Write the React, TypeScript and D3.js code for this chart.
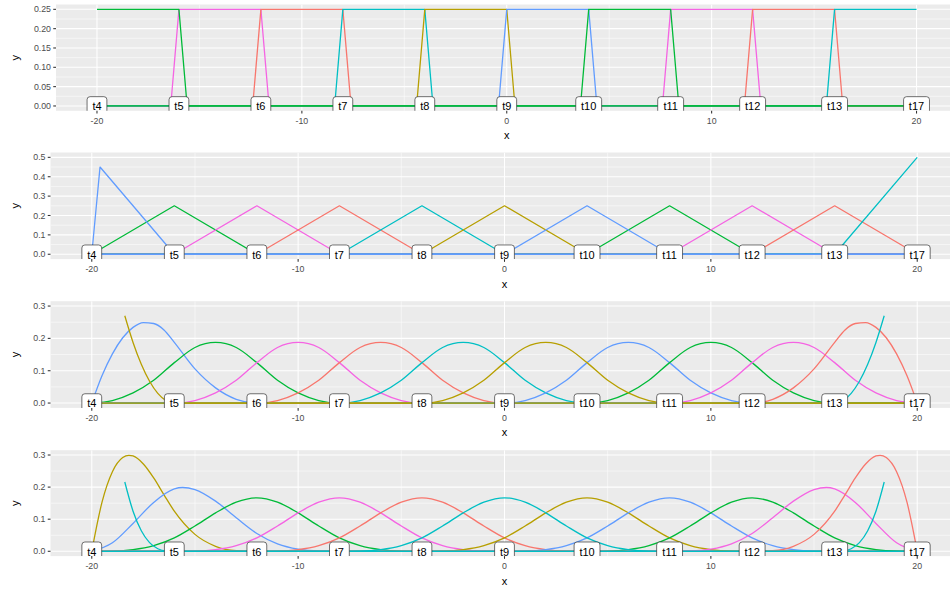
import React from 'react';
import * as d3 from 'd3';

// knot positions shared by all four panels
const knotX = [-20, -16, -12, -8, -4, 0, 4, 8, 12, 16, 20];
const knotLabels = ['t4', 't5', 't6', 't7', 't8', 't9', 't10', 't11', 't12', 't13', 't17'];
const xBreaks = [-20, -10, 0, 10, 20];
const xMinorBreaks = [-15, -5, 5, 15];

// degree 0
const deg0Groups = ['green', 'pink', 'salmon', 'cyan', 'olive', 'blue', 'green', 'pink', 'salmon', 'cyan'];
const deg0Basis = [
	[[-20, 0.25], [-16, 0.25], [-15.6, 0], [20, 0]],
	[[-20, 0], [-16.4, 0], [-16, 0.25], [-12, 0.25], [-11.6, 0], [20, 0]],
	[[-20, 0], [-12.4, 0], [-12, 0.25], [-8, 0.25], [-7.6, 0], [20, 0]],
	[[-20, 0], [-8.4, 0], [-8, 0.25], [-4, 0.25], [-3.6, 0], [20, 0]],
	[[-20, 0], [-4.4, 0], [-4, 0.25], [0, 0.25], [0.4, 0], [20, 0]],
	[[-20, 0], [-0.4, 0], [0, 0.25], [4, 0.25], [4.4, 0], [20, 0]],
	[[-20, 0], [3.6, 0], [4, 0.25], [8, 0.25], [8.4, 0], [20, 0]],
	[[-20, 0], [7.6, 0], [8, 0.25], [12, 0.25], [12.4, 0], [20, 0]],
	[[-20, 0], [11.6, 0], [12, 0.25], [16, 0.25], [16.4, 0], [20, 0]],
	[[-20, 0], [15.6, 0], [16, 0.25], [20, 0.25]],
];
const deg0YBreaks = [0, 0.05, 0.1, 0.15, 0.2, 0.25];

// degree 1
const deg1Groups = ['blue', 'green', 'pink', 'salmon', 'cyan', 'olive', 'blue', 'green', 'pink', 'salmon', 'cyan'];
const deg1Basis = [
	[[-20, 0], [-19.6, 0.45], [-16, 0], [20, 0]],
	[[-20, 0], [-16, 0.25], [-12, 0], [20, 0]],
	[[-20, 0], [-16, 0], [-12, 0.25], [-8, 0], [20, 0]],
	[[-20, 0], [-12, 0], [-8, 0.25], [-4, 0], [20, 0]],
	[[-20, 0], [-8, 0], [-4, 0.25], [0, 0], [20, 0]],
	[[-20, 0], [-4, 0], [0, 0.25], [4, 0], [20, 0]],
	[[-20, 0], [0, 0], [4, 0.25], [8, 0], [20, 0]],
	[[-20, 0], [4, 0], [8, 0.25], [12, 0], [20, 0]],
	[[-20, 0], [8, 0], [12, 0.25], [16, 0], [20, 0]],
	[[-20, 0], [12, 0], [16, 0.25], [20, 0]],
	[[-20, 0], [16, 0], [20, 0.5]],
];
const deg1YBreaks = [0, 0.1, 0.2, 0.3, 0.4, 0.5];

// degree 2
const deg2Groups = ['olive', 'blue', 'green', 'pink', 'salmon', 'cyan', 'olive', 'blue', 'green', 'pink', 'salmon', 'cyan'];
const deg2Basis = [
	[[-18.4, 0.27], [-18, 0.1875], [-17.6, 0.12], [-17.2, 0.0675], [-16.8, 0.03], [-16.4, 0.0075], [-16, 0], [20, 0]],
	[[-20, 0], [-19.5, 0.085], [-19, 0.152], [-18.5, 0.202], [-18, 0.234], [-17.5, 0.249], [-17, 0.246], [-16.5, 0.226], [-16, 0.1875], [-15, 0.1055], [-14, 0.0469], [-13, 0.0117], [-12, 0], [20, 0]],
	[[-20, 0], [-19, 0.0078], [-18, 0.0313], [-17, 0.0703], [-16, 0.125], [-15, 0.1719], [-14, 0.1875], [-13, 0.1719], [-12, 0.125], [-11, 0.0703], [-10, 0.0313], [-9, 0.0078], [-8, 0], [20, 0]],
	[[-20, 0], [-16, 0], [-15, 0.0078], [-14, 0.0313], [-13, 0.0703], [-12, 0.125], [-11, 0.1719], [-10, 0.1875], [-9, 0.1719], [-8, 0.125], [-7, 0.0703], [-6, 0.0313], [-5, 0.0078], [-4, 0], [20, 0]],
	[[-20, 0], [-12, 0], [-11, 0.0078], [-10, 0.0313], [-9, 0.0703], [-8, 0.125], [-7, 0.1719], [-6, 0.1875], [-5, 0.1719], [-4, 0.125], [-3, 0.0703], [-2, 0.0313], [-1, 0.0078], [0, 0], [20, 0]],
	[[-20, 0], [-8, 0], [-7, 0.0078], [-6, 0.0313], [-5, 0.0703], [-4, 0.125], [-3, 0.1719], [-2, 0.1875], [-1, 0.1719], [0, 0.125], [1, 0.0703], [2, 0.0313], [3, 0.0078], [4, 0], [20, 0]],
	[[-20, 0], [-4, 0], [-3, 0.0078], [-2, 0.0313], [-1, 0.0703], [0, 0.125], [1, 0.1719], [2, 0.1875], [3, 0.1719], [4, 0.125], [5, 0.0703], [6, 0.0313], [7, 0.0078], [8, 0], [20, 0]],
	[[-20, 0], [0, 0], [1, 0.0078], [2, 0.0313], [3, 0.0703], [4, 0.125], [5, 0.1719], [6, 0.1875], [7, 0.1719], [8, 0.125], [9, 0.0703], [10, 0.0313], [11, 0.0078], [12, 0], [20, 0]],
	[[-20, 0], [4, 0], [5, 0.0078], [6, 0.0313], [7, 0.0703], [8, 0.125], [9, 0.1719], [10, 0.1875], [11, 0.1719], [12, 0.125], [13, 0.0703], [14, 0.0313], [15, 0.0078], [16, 0], [20, 0]],
	[[-20, 0], [8, 0], [9, 0.0078], [10, 0.0313], [11, 0.0703], [12, 0.125], [13, 0.1719], [14, 0.1875], [15, 0.1719], [16, 0.125], [17, 0.0703], [18, 0.0313], [19, 0.0078], [20, 0]],
	[[-20, 0], [12, 0], [13, 0.0117], [14, 0.0469], [15, 0.1055], [16, 0.1875], [16.5, 0.226], [17, 0.246], [17.5, 0.249], [18, 0.234], [18.5, 0.202], [19, 0.152], [19.5, 0.085], [20, 0]],
	[[-20, 0], [16, 0], [16.4, 0.0075], [16.8, 0.03], [17.2, 0.0675], [17.6, 0.12], [18, 0.1875], [18.4, 0.27]],
];
const deg2YBreaks = [0, 0.1, 0.2, 0.3];

// degree 3
const deg3Groups = ['cyan', 'olive', 'blue', 'green', 'pink', 'salmon', 'cyan', 'olive', 'blue', 'green', 'pink', 'salmon', 'cyan'];
const deg3Basis = [
	[[-18.4, 0.216], [-18, 0.125], [-17.6, 0.064], [-17.2, 0.027], [-16.8, 0.008], [-16.4, 0.001], [-16, 0], [20, 0]],
	[[-20, 0], [-19.5, 0.154], [-19, 0.248], [-18.5, 0.292], [-18.2, 0.299], [-18, 0.297], [-17.5, 0.272], [-17, 0.2285], [-16.5, 0.176], [-16, 0.125], [-15, 0.0527], [-14, 0.0156], [-13, 0.002], [-12, 0], [20, 0]],
	[[-20, 0], [-19, 0.0265], [-18, 0.0868], [-17, 0.1523], [-16, 0.1944], [-15.6, 0.1988], [-15, 0.1923], [-14, 0.1563], [-13, 0.1046], [-12, 0.0556], [-11, 0.0234], [-10, 0.0069], [-9, 0.0009], [-8, 0], [20, 0]],
	[[-20, 0], [-19, 0.0007], [-18, 0.0052], [-17, 0.0176], [-16, 0.0417], [-15, 0.0788], [-14, 0.1198], [-13, 0.153], [-12, 0.1667], [-11, 0.153], [-10, 0.1198], [-9, 0.0788], [-8, 0.0417], [-7, 0.0176], [-6, 0.0052], [-5, 0.0007], [-4, 0], [20, 0]],
	[[-20, 0], [-16, 0], [-15, 0.0007], [-14, 0.0052], [-13, 0.0176], [-12, 0.0417], [-11, 0.0788], [-10, 0.1198], [-9, 0.153], [-8, 0.1667], [-7, 0.153], [-6, 0.1198], [-5, 0.0788], [-4, 0.0417], [-3, 0.0176], [-2, 0.0052], [-1, 0.0007], [0, 0], [20, 0]],
	[[-20, 0], [-12, 0], [-11, 0.0007], [-10, 0.0052], [-9, 0.0176], [-8, 0.0417], [-7, 0.0788], [-6, 0.1198], [-5, 0.153], [-4, 0.1667], [-3, 0.153], [-2, 0.1198], [-1, 0.0788], [0, 0.0417], [1, 0.0176], [2, 0.0052], [3, 0.0007], [4, 0], [20, 0]],
	[[-20, 0], [-8, 0], [-7, 0.0007], [-6, 0.0052], [-5, 0.0176], [-4, 0.0417], [-3, 0.0788], [-2, 0.1198], [-1, 0.153], [0, 0.1667], [1, 0.153], [2, 0.1198], [3, 0.0788], [4, 0.0417], [5, 0.0176], [6, 0.0052], [7, 0.0007], [8, 0], [20, 0]],
	[[-20, 0], [-4, 0], [-3, 0.0007], [-2, 0.0052], [-1, 0.0176], [0, 0.0417], [1, 0.0788], [2, 0.1198], [3, 0.153], [4, 0.1667], [5, 0.153], [6, 0.1198], [7, 0.0788], [8, 0.0417], [9, 0.0176], [10, 0.0052], [11, 0.0007], [12, 0], [20, 0]],
	[[-20, 0], [0, 0], [1, 0.0007], [2, 0.0052], [3, 0.0176], [4, 0.0417], [5, 0.0788], [6, 0.1198], [7, 0.153], [8, 0.1667], [9, 0.153], [10, 0.1198], [11, 0.0788], [12, 0.0417], [13, 0.0176], [14, 0.0052], [15, 0.0007], [16, 0], [20, 0]],
	[[-20, 0], [4, 0], [5, 0.0007], [6, 0.0052], [7, 0.0176], [8, 0.0417], [9, 0.0788], [10, 0.1198], [11, 0.153], [12, 0.1667], [13, 0.153], [14, 0.1198], [15, 0.0788], [16, 0.0417], [17, 0.0176], [18, 0.0052], [19, 0.0007], [20, 0]],
	[[-20, 0], [8, 0], [9, 0.0009], [10, 0.0069], [11, 0.0234], [12, 0.0556], [13, 0.1046], [14, 0.1563], [15, 0.1923], [15.6, 0.1988], [16, 0.1944], [17, 0.1523], [18, 0.0868], [19, 0.0265], [20, 0]],
	[[-20, 0], [12, 0], [13, 0.002], [14, 0.0156], [15, 0.0527], [16, 0.125], [16.5, 0.176], [17, 0.2285], [17.5, 0.272], [18, 0.297], [18.2, 0.299], [18.5, 0.292], [19, 0.248], [19.5, 0.154], [20, 0]],
	[[-20, 0], [16, 0], [16.4, 0.001], [16.8, 0.008], [17.2, 0.027], [17.6, 0.064], [18, 0.125], [18.4, 0.216]],
];
const deg3YBreaks = [0, 0.1, 0.2, 0.3];

const hueColours = {
	salmon: '#F8766D', olive: '#B79F00', green: '#00BA38',
	cyan: '#00BFC4', blue: '#619CFF', pink: '#F564E3',
};

const FONT = '"Liberation Sans", Arial, Helvetica, sans-serif';

const Panel = ({ id, basis, groups, yBreaks, fmt, box, smooth }) => {
	const x = d3.scaleLinear().domain([-22, 22]).range([box.left, box.right]);
	const y = d3.scaleLinear().domain(box.yDomain).range([box.bottom, box.top]);
	const line = d3.line<number[]>()
		.x(d => x(d[0]))
		.y(d => y(d[1]))
		.curve(smooth ? d3.curveMonotoneX : d3.curveLinear);

	// minor breaks halfway between major ones, kept inside the range
	const yMinor = [];
	for (let i = 0; i < yBreaks.length - 1; i++) yMinor.push((yBreaks[i] + yBreaks[i + 1]) / 2);

	// lines sharing the first basis colour end up on top (as in the source)
	const front = groups[0];
	const order = basis.map((_, i) => i).sort((a, b) => (groups[a] === front ? 1 : 0) - (groups[b] === front ? 1 : 0));

	const y0 = y(0);
	const midY = (box.top + box.bottom) / 2;

	return (
		<g>
			<defs>
				<clipPath id={`clip-${id}`}>
					<rect x={box.left} y={box.top} width={box.right - box.left} height={box.bottom - box.top} />
				</clipPath>
			</defs>
			<rect x={box.left} y={box.top} width={box.right - box.left} height={box.bottom - box.top} fill='#EBEBEB' />
			<g clipPath={`url(#clip-${id})`}>
				{yMinor.map(v => <line key={'ym' + v} x1={box.left} x2={box.right} y1={y(v)} y2={y(v)} stroke='white' strokeWidth={0.53} />)}
				{xMinorBreaks.map(v => <line key={'xm' + v} x1={x(v)} x2={x(v)} y1={box.top} y2={box.bottom} stroke='white' strokeWidth={0.53} />)}
				{yBreaks.map(v => <line key={'yM' + v} x1={box.left} x2={box.right} y1={y(v)} y2={y(v)} stroke='white' strokeWidth={1.07} />)}
				{xBreaks.map(v => <line key={'xM' + v} x1={x(v)} x2={x(v)} y1={box.top} y2={box.bottom} stroke='white' strokeWidth={1.07} />)}

				{order.map(i => (
					<path key={i} d={line(basis[i])} fill='none' stroke={hueColours[groups[i]]} strokeWidth={1.3} strokeLinejoin='round' />
				))}

				{knotX.map((k, i) => {
					const lab = knotLabels[i];
					const w = lab.length * 6.1 - 2.8 + 10.4;
					return (
						<g key={'k' + i}>
							<rect x={x(k) - w / 2} y={y0 - 9.3} width={w} height={18.6} rx={3} ry={3}
								fill='white' stroke='#333' strokeWidth={0.7} />
							<text x={x(k)} y={y0 + 4.3} textAnchor='middle' fontSize={11} fill='black' fontFamily={FONT}>{lab}</text>
						</g>
					);
				})}
			</g>

			{xBreaks.map(v => (
				<g key={'xt' + v}>
					<line x1={x(v)} x2={x(v)} y1={box.bottom} y2={box.bottom + 2.75} stroke='#333' strokeWidth={1.07} />
					<text x={x(v)} y={box.bottom + 13} textAnchor='middle' fontSize={8.8} fill='#4D4D4D' fontFamily={FONT}>{v}</text>
				</g>
			))}
			{yBreaks.map(v => (
				<g key={'yt' + v}>
					<line x1={box.left - 2.75} x2={box.left} y1={y(v)} y2={y(v)} stroke='#333' strokeWidth={1.07} />
					<text x={box.left - 5} y={y(v) + 3.1} textAnchor='end' fontSize={8.8} fill='#4D4D4D' fontFamily={FONT}>{fmt(v)}</text>
				</g>
			))}
			<text x={(box.left + box.right) / 2} y={box.bottom + 28.5} textAnchor='middle' fontSize={11} fill='black' fontFamily={FONT}>x</text>
			<text transform={`translate(${18.5} ${midY}) rotate(-90)`} textAnchor='middle' fontSize={11} fill='black' fontFamily={FONT}>y</text>
		</g>
	);
};

const App = () => {
	const panels = [
		{ id: 'p0', basis: deg0Basis, groups: deg0Groups, yBreaks: deg0YBreaks, fmt: d3.format('.2f'), smooth: false,
			box: { left: 56, right: 957.5, top: 4.5, bottom: 110.8, yDomain: [-0.0125, 0.2625] } },
		{ id: 'p1', basis: deg1Basis, groups: deg1Groups, yBreaks: deg1YBreaks, fmt: d3.format('.1f'), smooth: false,
			box: { left: 50.5, right: 958.5, top: 152.5, bottom: 259.1, yDomain: [-0.025, 0.525] } },
		{ id: 'p2', basis: deg2Basis, groups: deg2Groups, yBreaks: deg2YBreaks, fmt: d3.format('.1f'), smooth: true,
			box: { left: 50.5, right: 958.5, top: 301.2, bottom: 407.9, yDomain: [-0.015, 0.315] } },
		{ id: 'p3', basis: deg3Basis, groups: deg3Groups, yBreaks: deg3YBreaks, fmt: d3.format('.1f'), smooth: true,
			box: { left: 50.5, right: 958.5, top: 450.2, bottom: 556.1, yDomain: [-0.015, 0.315] } },
	];
	return (
		<svg width={950} height={591} style={{ position: 'absolute', left: 0, top: 0, background: 'white' }}>
			<rect width={950} height={591} fill='white' />
			{panels.map(p => <Panel key={p.id} {...p} />)}
		</svg>
	);
};

export default App;
